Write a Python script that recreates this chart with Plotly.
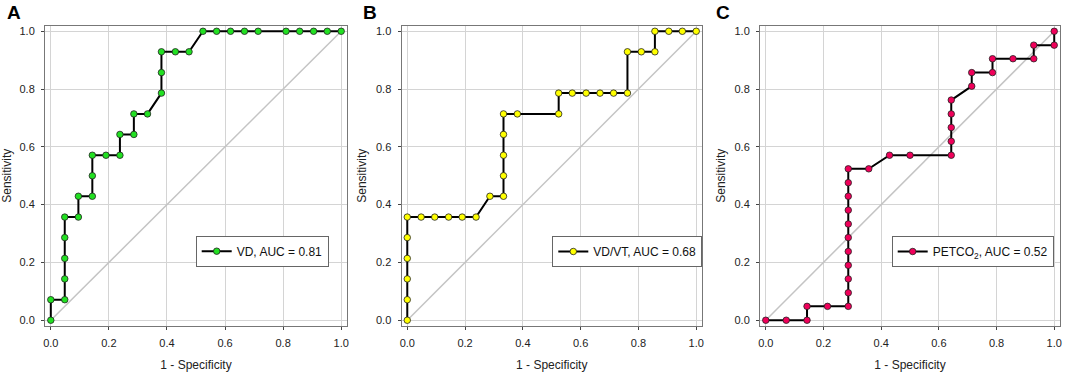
import plotly.graph_objects as go

# ---- data ----
fpr_vd = [0, 0, 0.048, 0.048, 0.048, 0.048, 0.048, 0.095, 0.095, 0.143, 0.143, 0.143,
          0.190, 0.238, 0.238, 0.286, 0.286, 0.333, 0.381, 0.381, 0.381, 0.429, 0.476,
          0.524, 0.571, 0.619, 0.667, 0.714, 0.810, 0.857, 0.905, 0.952, 1.0]
tpr_vd = [0, 0.071, 0.071, 0.143, 0.214, 0.286, 0.357, 0.357, 0.429, 0.429, 0.5, 0.571,
          0.571, 0.571, 0.643, 0.643, 0.714, 0.714, 0.786, 0.857, 0.929, 0.929, 0.929,
          1.0, 1.0, 1.0, 1.0, 1.0, 1.0, 1.0, 1.0, 1.0, 1.0]

fpr_vdvt = [0, 0, 0, 0, 0, 0, 0.048, 0.095, 0.143, 0.190, 0.238, 0.286, 0.333, 0.333,
            0.333, 0.333, 0.333, 0.381, 0.524, 0.524, 0.571, 0.619, 0.667, 0.714, 0.762,
            0.762, 0.810, 0.857, 0.857, 0.905, 0.952, 1.0]
tpr_vdvt = [0, 0.071, 0.143, 0.214, 0.286, 0.357, 0.357, 0.357, 0.357, 0.357, 0.357,
            0.429, 0.429, 0.5, 0.571, 0.643, 0.714, 0.714, 0.714, 0.786, 0.786, 0.786,
            0.786, 0.786, 0.786, 0.929, 0.929, 0.929, 1.0, 1.0, 1.0, 1.0]

fpr_pet = [0, 0.071, 0.143, 0.143, 0.214, 0.286, 0.286, 0.286, 0.286, 0.286, 0.286,
           0.286, 0.286, 0.286, 0.286, 0.286, 0.357, 0.429, 0.5, 0.643, 0.643, 0.643,
           0.643, 0.643, 0.714, 0.714, 0.786, 0.786, 0.857, 0.929, 0.929, 1.0, 1.0]
tpr_pet = [0, 0, 0, 0.048, 0.048, 0.048, 0.095, 0.143, 0.190, 0.238, 0.286, 0.333,
           0.381, 0.429, 0.476, 0.524, 0.524, 0.571, 0.571, 0.571, 0.619, 0.667, 0.714,
           0.762, 0.810, 0.857, 0.857, 0.905, 0.905, 0.905, 0.952, 0.952, 1.0]

labels = ["VD, AUC = 0.81", "VD/VT, AUC = 0.68", "PETCO<sub>2</sub>, AUC = 0.52"]
panel_letters = ["A", "B", "C"]
colors = ["#22e022", "#ffff00", "#f0005a"]
tick_vals = [0, 0.2, 0.4, 0.6, 0.8, 1.0]
tick_text = ["0.0", "0.2", "0.4", "0.6", "0.8", "1.0"]

W, H = 1065, 375
FONT = "Liberation Sans, Arial, sans-serif"

# panel pixel boxes (left, right)
xdoms = [(45, 347), (401.5, 702), (760, 1060)]
ytop, ybot = 25.5, 326
legend_pos = [(195.7, 235.7), (552.3, 236), (891.7, 236)]
letter_pos = [13.5, 370, 723.5]

series = [(fpr_vd, tpr_vd), (fpr_vdvt, tpr_vdvt), (fpr_pet, tpr_pet)]

fig = go.Figure()
for i, (fx, ty) in enumerate(series):
    sfx = "" if i == 0 else str(i + 1)
    xa, ya = "x" + sfx, "y" + sfx
    fig.add_trace(go.Scatter(x=[0, 1], y=[0, 1], mode="lines", xaxis=xa, yaxis=ya,
                             line=dict(color="#c4c4c4", width=1.5), showlegend=False,
                             hoverinfo="skip"))
    fig.add_trace(go.Scatter(x=fx, y=ty, mode="lines+markers", xaxis=xa, yaxis=ya,
                             name=labels[i], legend="legend" + sfx,
                             line=dict(color="black", width=2),
                             marker=dict(color=colors[i], size=6.5,
                                         line=dict(color="#222222", width=0.8))))
    axcommon = dict(range=[-0.02, 1.02], tickvals=tick_vals, ticktext=tick_text,
                    showgrid=True, gridcolor="#d4d4d4", gridwidth=1, zeroline=False,
                    showline=True, linecolor="#777777", linewidth=1, mirror=True,
                    ticks="outside", ticklen=3, tickcolor="#444444", automargin=False,
                    tickfont=dict(family=FONT, size=11, color="#222222"))
    l, r = xdoms[i]
    fig.layout["xaxis" + sfx] = dict(axcommon, domain=[l / W, r / W], anchor=ya,
                                     ticklabelstandoff=4,
                                     title=dict(text="1 - Specificity", standoff=12,
                                                font=dict(family=FONT, size=12, color="#222222")))
    fig.layout["yaxis" + sfx] = dict(axcommon, domain=[(H - ybot) / H, (H - ytop) / H],
                                     anchor=xa, ticklabelstandoff=4,
                                     title=dict(text="Sensitivity", standoff=6,
                                                font=dict(family=FONT, size=12, color="#222222")))
    lx, ly = legend_pos[i]
    fig.layout["legend" + sfx] = dict(x=lx / W, y=1 - ly / H, xanchor="left", yanchor="top",
                                      xref="paper", yref="paper",
                                      bgcolor="white", bordercolor="#666666", borderwidth=1,
                                      font=dict(family=FONT, size=12, color="#111111"),
                                      itemwidth=30)
    fig.add_annotation(x=letter_pos[i] / W, y=1 - 12 / H, xref="paper", yref="paper",
                       xanchor="center", yanchor="middle",
                       text="<b>" + panel_letters[i] + "</b>", showarrow=False,
                       font=dict(family=FONT, size=19, color="black"))

fig.update_layout(width=W, height=H, margin=dict(l=0, r=0, t=0, b=0, autoexpand=False),
                  paper_bgcolor="white", plot_bgcolor="white", showlegend=True)

fig.write_html("out.html", config={"displayModeBar": False},
               post_script="document.body.style.margin='0';document.body.style.overflow='hidden';")
